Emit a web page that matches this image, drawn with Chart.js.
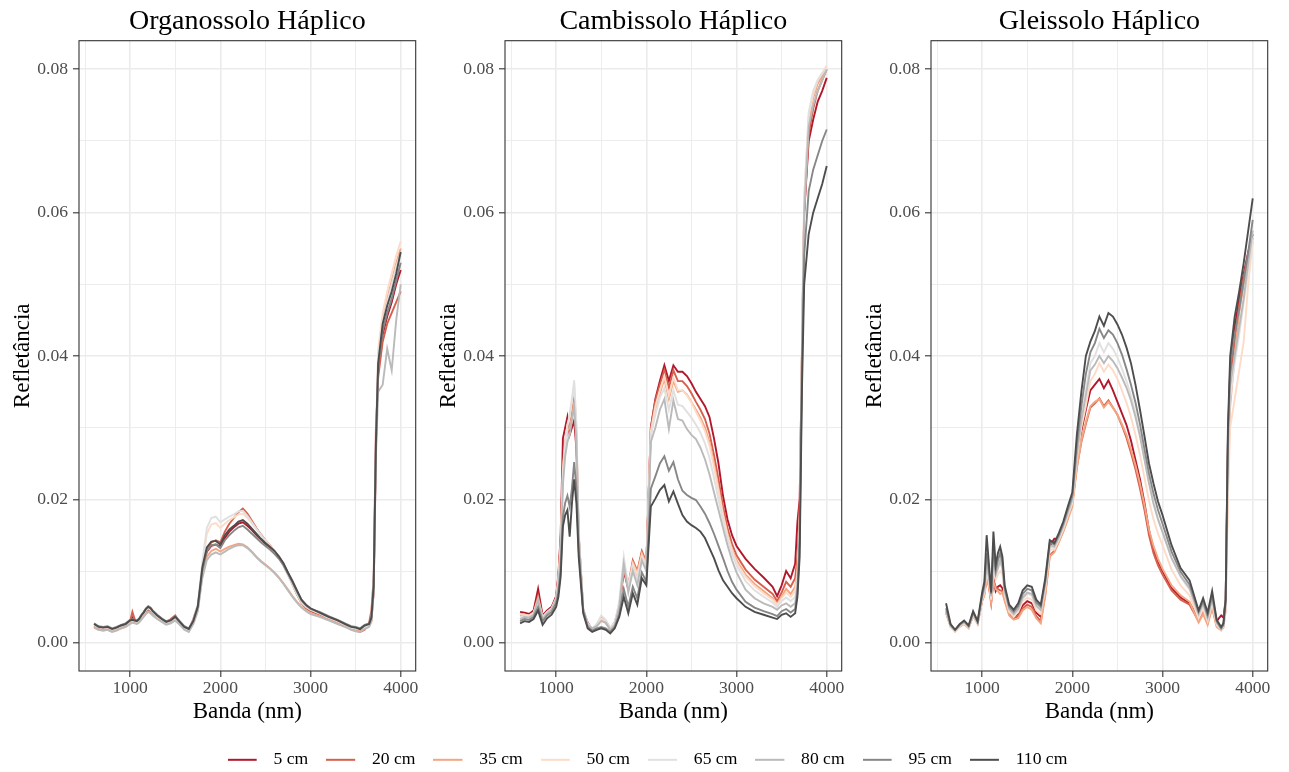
<!DOCTYPE html>
<html><head><meta charset="utf-8">
<script src="https://cdn.jsdelivr.net/npm/chart.js@4.4.1/dist/chart.umd.min.js"></script>
<style>
html,body{margin:0;padding:0;background:#fff;}
#wrap{position:relative;width:1289px;height:772px;overflow:hidden;background:#fff;}
canvas{position:absolute;}
</style></head><body>
<div id="wrap">
<canvas id="p0" width="426" height="735" style="left:0px;top:0px"></canvas>
<canvas id="p1" width="426" height="735" style="left:426px;top:0px"></canvas>
<canvas id="p2" width="426" height="735" style="left:852px;top:0px"></canvas>
<canvas id="lg" width="1289" height="39" style="left:3px;top:733px"></canvas>
</div>
<script>
// ---------- DATA ----------
const wavelengths = [600,650,700,750,800,850,900,950,1000,
  1025,1050,1075,1100,1125,1150,1175,1200,1225,1250,
  1300,1350,1400,1450,1500,1550,1600,1650,1700,1750,1800,1850,1900,1950,2000,2050,2100,2150,2200,2250,
  2300,2350,2400,2450,2500,2550,2600,2650,2700,2750,2800,2850,2900,2950,3000,
  3100,3200,3300,3400,3450,3500,3550,3600,3650,3675,3700,3725,3750,3800,3850,3900,3950,4000];

const depthLabels = ['5 cm','20 cm','35 cm','50 cm','65 cm','80 cm','95 cm','110 cm'];
const panelTitles = ['Organossolo Háplico','Cambissolo Háplico','Gleissolo Háplico'];
const xTickValues = [500,1000,1500,2000,2500,3000,3500,4000];
const xTickLabeled = [1000,2000,3000,4000];
const yTickValues = [0,0.01,0.02,0.03,0.04,0.05,0.06,0.07,0.08];
const yTickLabeled = [0,0.02,0.04,0.06,0.08];

// Organossolo Háplico
const org5 = [0.0023,0.0020,0.0019,0.0020,0.0017,0.0019,0.0022,0.0024,0.0029,
  0.0035,0.0030,0.0029,0.0031,0.0036,0.0040,0.0044,0.0047,0.0045,0.0042,
  0.0036,0.0031,0.0027,0.0030,0.0035,0.0028,0.0021,0.0018,0.0029,0.0048,
  0.0098,0.0127,0.0135,0.0137,0.0134,0.0146,0.0155,0.0161,0.0166,0.0168,0.0163,0.0157,0.0150,0.0144,0.0138,0.0133,0.0127,0.0120,0.0110,0.0097,0.0083,0.0069,0.0057,0.0050,0.0045,
  0.0040,0.0034,0.0029,0.0023,0.0020,0.0018,0.0017,0.0020,0.0024,0.0032,0.0070,0.0270,0.0380,0.0430,0.0455,0.0475,0.0500,0.0520];
const org20 = [0.0022,0.0019,0.0018,0.0019,0.0016,0.0018,0.0021,0.0024,0.0030,
  0.0043,0.0033,0.0029,0.0030,0.0035,0.0039,0.0043,0.0046,0.0044,0.0041,
  0.0035,0.0031,0.0027,0.0033,0.0038,0.0028,0.0020,0.0017,0.0033,0.0052,
  0.0102,0.0130,0.0140,0.0143,0.0140,0.0155,0.0166,0.0174,0.0182,0.0187,0.0180,0.0170,0.0160,0.0151,0.0143,0.0136,0.0128,0.0119,0.0108,0.0095,0.0081,0.0067,0.0055,0.0048,0.0044,
  0.0039,0.0033,0.0028,0.0022,0.0019,0.0017,0.0015,0.0018,0.0028,0.0045,0.0090,0.0300,0.0370,0.0420,0.0445,0.0460,0.0475,0.0490];
const org35 = [0.0021,0.0018,0.0017,0.0018,0.0016,0.0018,0.0020,0.0022,0.0027,
  0.0029,0.0028,0.0027,0.0029,0.0033,0.0037,0.0041,0.0043,0.0042,0.0039,
  0.0034,0.0030,0.0026,0.0028,0.0032,0.0026,0.0019,0.0017,0.0027,0.0045,
  0.0095,0.0120,0.0128,0.0131,0.0127,0.0131,0.0134,0.0136,0.0138,0.0137,0.0133,0.0127,0.0120,0.0114,0.0109,0.0104,0.0098,0.0091,0.0083,0.0074,0.0065,0.0057,0.0050,0.0045,0.0041,
  0.0037,0.0032,0.0027,0.0022,0.0019,0.0018,0.0017,0.0020,0.0023,0.0030,0.0075,0.0270,0.0400,0.0450,0.0480,0.0505,0.0530,0.0550];
const org50 = [0.0024,0.0021,0.0020,0.0021,0.0018,0.0020,0.0023,0.0025,0.0030,
  0.0031,0.0030,0.0029,0.0032,0.0037,0.0041,0.0045,0.0048,0.0046,0.0043,
  0.0037,0.0032,0.0028,0.0030,0.0034,0.0028,0.0021,0.0018,0.0030,0.0052,
  0.0108,0.0152,0.0165,0.0167,0.0160,0.0166,0.0171,0.0175,0.0179,0.0180,0.0174,0.0166,0.0158,0.0150,0.0143,0.0136,0.0128,0.0119,0.0108,0.0095,0.0082,0.0069,0.0057,0.0050,0.0046,
  0.0041,0.0035,0.0030,0.0024,0.0021,0.0020,0.0019,0.0022,0.0025,0.0033,0.0080,0.0280,0.0410,0.0460,0.0490,0.0515,0.0540,0.0560];
const org65 = [0.0025,0.0022,0.0021,0.0022,0.0019,0.0021,0.0023,0.0025,0.0030,
  0.0031,0.0030,0.0029,0.0032,0.0037,0.0041,0.0046,0.0049,0.0047,0.0043,
  0.0037,0.0032,0.0028,0.0030,0.0034,0.0028,0.0021,0.0018,0.0031,0.0054,
  0.0112,0.0160,0.0174,0.0176,0.0168,0.0172,0.0176,0.0179,0.0183,0.0184,0.0177,0.0168,0.0159,0.0150,0.0142,0.0135,0.0127,0.0118,0.0107,0.0094,0.0081,0.0068,0.0056,0.0050,0.0046,
  0.0041,0.0035,0.0030,0.0024,0.0021,0.0020,0.0019,0.0022,0.0025,0.0034,0.0085,0.0290,0.0400,0.0445,0.0475,0.0500,0.0525,0.0545];
const org80 = [0.0022,0.0018,0.0017,0.0018,0.0015,0.0017,0.0020,0.0022,0.0026,
  0.0028,0.0027,0.0026,0.0028,0.0032,0.0036,0.0040,0.0043,0.0041,0.0038,
  0.0033,0.0029,0.0025,0.0027,0.0031,0.0025,0.0018,0.0015,0.0026,0.0044,
  0.0090,0.0115,0.0123,0.0126,0.0123,0.0127,0.0131,0.0134,0.0136,0.0136,0.0132,0.0126,0.0119,0.0113,0.0108,0.0103,0.0097,0.0090,0.0082,0.0073,0.0064,0.0056,0.0049,0.0044,0.0040,
  0.0036,0.0031,0.0026,0.0021,0.0018,0.0016,0.0015,0.0019,0.0022,0.0030,0.0070,0.0260,0.0350,0.0360,0.0410,0.0380,0.0450,0.0500];
const org95 = [0.0027,0.0023,0.0022,0.0023,0.0020,0.0022,0.0025,0.0027,0.0032,
  0.0033,0.0032,0.0031,0.0034,0.0039,0.0043,0.0048,0.0051,0.0049,0.0045,
  0.0039,0.0034,0.0030,0.0032,0.0037,0.0030,0.0023,0.0020,0.0031,0.0051,
  0.0100,0.0128,0.0136,0.0137,0.0132,0.0143,0.0150,0.0156,0.0161,0.0163,0.0158,0.0152,0.0146,0.0140,0.0135,0.0130,0.0124,0.0117,0.0108,0.0096,0.0084,0.0071,0.0059,0.0052,0.0047,
  0.0043,0.0037,0.0032,0.0026,0.0023,0.0022,0.0020,0.0025,0.0027,0.0036,0.0080,0.0280,0.0385,0.0435,0.0460,0.0480,0.0505,0.0530];
const org110 = [0.0026,0.0022,0.0021,0.0022,0.0019,0.0021,0.0024,0.0026,0.0031,
  0.0032,0.0031,0.0030,0.0033,0.0038,0.0042,0.0047,0.0050,0.0048,0.0044,
  0.0038,0.0033,0.0029,0.0031,0.0036,0.0029,0.0022,0.0019,0.0030,0.0050,
  0.0105,0.0133,0.0141,0.0142,0.0137,0.0150,0.0158,0.0163,0.0169,0.0171,0.0166,0.0159,0.0152,0.0145,0.0139,0.0134,0.0128,0.0120,0.0111,0.0098,0.0086,0.0073,0.0060,0.0053,0.0048,
  0.0042,0.0036,0.0031,0.0025,0.0022,0.0021,0.0019,0.0024,0.0026,0.0035,0.0080,0.0280,0.0390,0.0445,0.0470,0.0490,0.0515,0.0545];

// Cambissolo Háplico
const cam5 = [0.0043,0.0042,0.0040,0.0045,0.0075,0.0038,0.0045,0.0050,0.0065,
  0.0095,0.0150,0.0285,0.0300,0.0315,0.0290,0.0300,0.0310,0.0270,0.0150,
  0.0045,0.0028,0.0018,0.0025,0.0035,0.0030,0.0020,0.0028,0.0050,0.0100,0.0075,0.0110,0.0095,0.0125,0.0110,0.0300,0.0340,0.0365,0.0387,0.0365,
  0.0387,0.0378,0.0378,0.0372,0.0362,0.0350,0.0340,0.0330,0.0315,0.0285,0.0250,0.0205,0.0172,0.0150,0.0135,
  0.0117,0.0103,0.0091,0.0078,0.0065,0.0080,0.0100,0.0090,0.0110,0.0168,0.0200,0.0400,0.0600,0.0700,0.0730,0.0755,0.0770,0.0788];
const cam20 = [0.0040,0.0039,0.0038,0.0042,0.0065,0.0036,0.0043,0.0048,0.0062,
  0.0090,0.0140,0.0250,0.0280,0.0300,0.0300,0.0320,0.0345,0.0290,0.0150,
  0.0045,0.0026,0.0017,0.0024,0.0032,0.0028,0.0019,0.0027,0.0052,0.0105,0.0080,0.0115,0.0100,0.0128,0.0112,0.0300,0.0338,0.0360,0.0380,0.0355,
  0.0380,0.0365,0.0365,0.0358,0.0348,0.0336,0.0325,0.0312,0.0292,0.0262,0.0228,0.0190,0.0160,0.0138,0.0122,
  0.0102,0.0088,0.0078,0.0068,0.0058,0.0070,0.0085,0.0078,0.0090,0.0120,0.0180,0.0400,0.0600,0.0710,0.0745,0.0770,0.0785,0.0800];
const cam35 = [0.0038,0.0038,0.0037,0.0041,0.0062,0.0035,0.0042,0.0047,0.0061,
  0.0088,0.0135,0.0240,0.0275,0.0295,0.0300,0.0315,0.0335,0.0285,0.0150,
  0.0045,0.0025,0.0018,0.0024,0.0032,0.0028,0.0019,0.0027,0.0052,0.0105,0.0078,0.0112,0.0098,0.0125,0.0110,0.0290,0.0325,0.0348,0.0368,0.0340,
  0.0365,0.0350,0.0352,0.0346,0.0336,0.0325,0.0314,0.0300,0.0280,0.0250,0.0216,0.0180,0.0152,0.0130,0.0115,
  0.0095,0.0082,0.0072,0.0062,0.0054,0.0064,0.0075,0.0068,0.0078,0.0100,0.0170,0.0400,0.0610,0.0730,0.0760,0.0780,0.0790,0.0800];
const cam50 = [0.0040,0.0039,0.0038,0.0042,0.0060,0.0036,0.0043,0.0048,0.0062,
  0.0088,0.0135,0.0240,0.0280,0.0305,0.0315,0.0335,0.0360,0.0300,0.0155,
  0.0046,0.0026,0.0019,0.0025,0.0034,0.0030,0.0020,0.0028,0.0055,0.0110,0.0080,0.0110,0.0095,0.0122,0.0108,0.0295,0.0330,0.0352,0.0372,0.0345,
  0.0370,0.0352,0.0352,0.0345,0.0335,0.0322,0.0310,0.0295,0.0275,0.0245,0.0212,0.0178,0.0150,0.0128,0.0112,
  0.0092,0.0079,0.0069,0.0060,0.0053,0.0062,0.0070,0.0064,0.0072,0.0095,0.0160,0.0420,0.0620,0.0735,0.0765,0.0785,0.0795,0.0805];
const cam65 = [0.0036,0.0037,0.0036,0.0040,0.0058,0.0035,0.0042,0.0047,0.0061,
  0.0085,0.0130,0.0230,0.0275,0.0300,0.0320,0.0340,0.0366,0.0305,0.0155,
  0.0047,0.0027,0.0020,0.0026,0.0038,0.0032,0.0020,0.0028,0.0058,0.0120,0.0078,0.0105,0.0088,0.0118,0.0105,0.0290,0.0318,0.0342,0.0355,0.0325,
  0.0352,0.0332,0.0330,0.0322,0.0314,0.0304,0.0293,0.0278,0.0258,0.0230,0.0200,0.0170,0.0145,0.0124,0.0108,
  0.0086,0.0073,0.0064,0.0056,0.0050,0.0058,0.0063,0.0058,0.0064,0.0088,0.0150,0.0410,0.0620,0.0740,0.0770,0.0785,0.0795,0.0800];
const cam80 = [0.0033,0.0036,0.0035,0.0039,0.0060,0.0033,0.0041,0.0046,0.0060,
  0.0080,0.0120,0.0220,0.0260,0.0280,0.0290,0.0310,0.0330,0.0280,0.0150,
  0.0048,0.0025,0.0020,0.0023,0.0030,0.0028,0.0018,0.0025,0.0050,0.0110,0.0070,0.0100,0.0080,0.0115,0.0100,0.0280,0.0300,0.0325,0.0340,0.0298,
  0.0338,0.0312,0.0310,0.0298,0.0290,0.0284,0.0272,0.0256,0.0235,0.0210,0.0185,0.0160,0.0136,0.0115,0.0098,
  0.0074,0.0062,0.0055,0.0050,0.0046,0.0052,0.0055,0.0050,0.0055,0.0080,0.0150,0.0400,0.0600,0.0720,0.0750,0.0770,0.0785,0.0800];
const cam95 = [0.0030,0.0033,0.0032,0.0036,0.0050,0.0030,0.0038,0.0043,0.0055,
  0.0070,0.0100,0.0175,0.0195,0.0205,0.0190,0.0215,0.0252,0.0215,0.0130,
  0.0045,0.0022,0.0017,0.0020,0.0022,0.0020,0.0015,0.0022,0.0040,0.0075,0.0050,0.0078,0.0062,0.0098,0.0085,0.0215,0.0232,0.0250,0.0260,0.0240,
  0.0252,0.0228,0.0212,0.0206,0.0202,0.0199,0.0190,0.0180,0.0167,0.0152,0.0135,0.0118,0.0100,0.0085,0.0074,
  0.0057,0.0049,0.0044,0.0040,0.0037,0.0044,0.0047,0.0042,0.0047,0.0070,0.0140,0.0380,0.0540,0.0630,0.0660,0.0680,0.0700,0.0716];
const cam110 = [0.0027,0.0030,0.0029,0.0033,0.0045,0.0025,0.0034,0.0039,0.0050,
  0.0064,0.0092,0.0162,0.0178,0.0185,0.0148,0.0194,0.0228,0.0194,0.0120,
  0.0041,0.0020,0.0015,0.0018,0.0020,0.0018,0.0013,0.0020,0.0036,0.0064,0.0041,0.0069,0.0053,0.0090,0.0080,0.0190,0.0201,0.0213,0.0220,0.0197,
  0.0211,0.0194,0.0178,0.0169,0.0164,0.0160,0.0155,0.0146,0.0132,0.0118,0.0101,0.0087,0.0078,0.0069,0.0062,
  0.0050,0.0043,0.0039,0.0035,0.0033,0.0039,0.0041,0.0036,0.0041,0.0064,0.0120,0.0350,0.0500,0.0570,0.0600,0.0620,0.0640,0.0665];

// Gleissolo Háplico
const gle5 = [0.0043,0.0024,0.0017,0.0024,0.0028,0.0022,0.0039,0.0028,0.0060,
  0.0070,0.0095,0.0082,0.0058,0.0090,0.0072,0.0078,0.0080,0.0076,0.0062,
  0.0042,0.0036,0.0040,0.0052,0.0058,0.0055,0.0042,0.0036,0.0075,0.0135,0.0145,0.0145,0.0158,0.0178,0.0200,0.0255,0.0295,0.0325,0.0352,0.0360,
  0.0368,0.0355,0.0366,0.0352,0.0336,0.0320,0.0304,0.0282,0.0255,0.0228,0.0195,0.0157,0.0130,0.0113,0.0100,
  0.0076,0.0063,0.0055,0.0035,0.0045,0.0032,0.0052,0.0030,0.0038,0.0035,0.0060,0.0280,0.0380,0.0440,0.0480,0.0515,0.0545,0.0570];
const gle20 = [0.0042,0.0023,0.0016,0.0023,0.0027,0.0021,0.0038,0.0027,0.0059,
  0.0068,0.0090,0.0080,0.0056,0.0088,0.0078,0.0075,0.0073,0.0072,0.0060,
  0.0040,0.0034,0.0037,0.0048,0.0053,0.0050,0.0037,0.0030,0.0068,0.0122,0.0128,0.0141,0.0156,0.0174,0.0195,0.0245,0.0280,0.0305,0.0328,0.0334,
  0.0341,0.0330,0.0338,0.0328,0.0318,0.0303,0.0286,0.0265,0.0242,0.0215,0.0185,0.0150,0.0125,0.0108,0.0095,
  0.0073,0.0060,0.0053,0.0030,0.0042,0.0027,0.0050,0.0024,0.0018,0.0022,0.0050,0.0260,0.0360,0.0420,0.0470,0.0510,0.0540,0.0565];
const gle35 = [0.0042,0.0022,0.0016,0.0022,0.0026,0.0020,0.0038,0.0026,0.0058,
  0.0066,0.0088,0.0078,0.0055,0.0085,0.0075,0.0072,0.0068,0.0070,0.0058,
  0.0038,0.0032,0.0034,0.0045,0.0050,0.0046,0.0034,0.0027,0.0065,0.0120,0.0126,0.0140,0.0155,0.0172,0.0190,0.0243,0.0282,0.0308,0.0330,0.0336,
  0.0340,0.0328,0.0336,0.0328,0.0318,0.0305,0.0290,0.0270,0.0248,0.0222,0.0192,0.0158,0.0135,0.0117,0.0103,
  0.0080,0.0066,0.0057,0.0028,0.0040,0.0025,0.0048,0.0022,0.0017,0.0021,0.0045,0.0220,0.0330,0.0400,0.0460,0.0500,0.0530,0.0560];
const gle50 = [0.0043,0.0023,0.0016,0.0023,0.0027,0.0021,0.0039,0.0027,0.0060,
  0.0070,0.0098,0.0085,0.0060,0.0105,0.0088,0.0095,0.0100,0.0095,0.0066,
  0.0043,0.0036,0.0043,0.0058,0.0063,0.0060,0.0045,0.0040,0.0076,0.0130,0.0130,0.0143,0.0158,0.0177,0.0195,0.0255,0.0300,0.0330,0.0365,0.0375,
  0.0390,0.0378,0.0388,0.0380,0.0368,0.0352,0.0335,0.0315,0.0290,0.0262,0.0230,0.0198,0.0172,0.0152,0.0136,
  0.0102,0.0080,0.0066,0.0034,0.0047,0.0030,0.0055,0.0025,0.0018,0.0022,0.0045,0.0200,0.0300,0.0340,0.0380,0.0420,0.0500,0.0560];
const gle65 = [0.0044,0.0024,0.0017,0.0024,0.0028,0.0022,0.0040,0.0028,0.0062,
  0.0073,0.0105,0.0090,0.0064,0.0115,0.0092,0.0102,0.0112,0.0102,0.0070,
  0.0046,0.0039,0.0046,0.0062,0.0068,0.0066,0.0050,0.0044,0.0080,0.0134,0.0132,0.0145,0.0161,0.0180,0.0198,0.0265,0.0315,0.0352,0.0390,0.0400,
  0.0418,0.0405,0.0418,0.0410,0.0398,0.0382,0.0365,0.0345,0.0320,0.0292,0.0258,0.0225,0.0196,0.0173,0.0155,
  0.0118,0.0092,0.0074,0.0038,0.0052,0.0033,0.0060,0.0027,0.0018,0.0023,0.0050,0.0250,0.0340,0.0390,0.0430,0.0475,0.0520,0.0565];
const gle80 = [0.0045,0.0024,0.0017,0.0024,0.0029,0.0022,0.0041,0.0028,0.0063,
  0.0075,0.0110,0.0092,0.0065,0.0120,0.0095,0.0105,0.0115,0.0105,0.0072,
  0.0047,0.0040,0.0047,0.0063,0.0070,0.0068,0.0052,0.0046,0.0082,0.0136,0.0134,0.0147,0.0163,0.0182,0.0200,0.0262,0.0310,0.0345,0.0380,0.0388,
  0.0400,0.0390,0.0400,0.0393,0.0383,0.0370,0.0356,0.0338,0.0315,0.0288,0.0255,0.0222,0.0194,0.0172,0.0154,
  0.0118,0.0093,0.0076,0.0040,0.0055,0.0035,0.0062,0.0028,0.0019,0.0024,0.0055,0.0270,0.0360,0.0400,0.0440,0.0480,0.0530,0.0575];
const gle95 = [0.0048,0.0025,0.0018,0.0025,0.0030,0.0023,0.0042,0.0029,0.0066,
  0.0080,0.0125,0.0100,0.0068,0.0135,0.0100,0.0115,0.0125,0.0112,0.0076,
  0.0050,0.0043,0.0051,0.0068,0.0075,0.0073,0.0056,0.0050,0.0086,0.0140,0.0137,0.0150,0.0166,0.0186,0.0205,0.0275,0.0330,0.0375,0.0405,0.0418,
  0.0438,0.0425,0.0436,0.0430,0.0418,0.0402,0.0382,0.0360,0.0335,0.0305,0.0270,0.0236,0.0208,0.0185,0.0166,
  0.0127,0.0099,0.0081,0.0043,0.0058,0.0038,0.0066,0.0030,0.0020,0.0025,0.0060,0.0290,0.0385,0.0430,0.0465,0.0505,0.0545,0.0590];
const gle110 = [0.0055,0.0026,0.0018,0.0026,0.0031,0.0024,0.0044,0.0030,0.0070,
  0.0085,0.0150,0.0110,0.0070,0.0155,0.0108,0.0125,0.0134,0.0120,0.0080,
  0.0053,0.0046,0.0055,0.0073,0.0080,0.0078,0.0060,0.0053,0.0090,0.0143,0.0139,0.0153,0.0169,0.0190,0.0210,0.0290,0.0350,0.0400,0.0420,0.0435,
  0.0455,0.0442,0.0460,0.0455,0.0444,0.0430,0.0412,0.0390,0.0360,0.0325,0.0288,0.0250,0.0222,0.0197,0.0178,
  0.0136,0.0104,0.0087,0.0045,0.0062,0.0042,0.0072,0.0032,0.0022,0.0027,0.0060,0.0300,0.0400,0.0455,0.0490,0.0530,0.0575,0.0620];

const panelSeries = [
  [org5, org20, org35, org50, org65, org80, org95, org110],
  [cam5, cam20, cam35, cam50, cam65, cam80, cam95, cam110],
  [gle5, gle20, gle35, gle50, gle65, gle80, gle95, gle110]
];

// ---------- STYLE ----------
const depthColors = ['#b2182b','#d6604d','#f4a582','#fddbc7','#e0e0e0','#bababa','#878787','#4d4d4d'];
const FONT = '"Liberation Serif", "Times New Roman", serif';
const GRID = '#ebebeb';

panelSeries.forEach((p, pi) => p.forEach((s, si) => {
  if (s.length !== wavelengths.length) console.error('length mismatch panel', pi, 'series', si, s.length);
}));

const panelDeco = {
  id: 'panelDeco',
  afterDatasetsDraw(chart) {
    const {ctx, chartArea: a} = chart;
    ctx.save();
    ctx.strokeStyle = '#333333';
    ctx.lineWidth = 1.1;
    ctx.strokeRect(a.left, a.top, a.right - a.left, a.bottom - a.top);
    ctx.restore();
  },
  afterDraw(chart, args, opts) {
    const {ctx, chartArea: a} = chart;
    ctx.save();
    ctx.font = '28px ' + FONT;
    ctx.fillStyle = '#000000';
    ctx.textAlign = 'center';
    ctx.textBaseline = 'alphabetic';
    ctx.fillText(opts.title, (a.left + a.right) / 2, 28.5);
    ctx.restore();
  }
};

function gridOpts(labeled) {
  return {
    color: GRID,
    lineWidth: c => (c.tick && labeled.includes(c.tick.value)) ? 1.6 : 0.9,
    tickLength: 6,
    tickWidth: 1.1,
    tickColor: c => (c.tick && labeled.includes(c.tick.value)) ? '#333333' : 'rgba(0,0,0,0)'
  };
}

function makePanel(id, title, seriesList) {
  const datasets = seriesList.map((vals, i) => ({
    label: depthLabels[i],
    data: wavelengths.map((w, k) => ({x: w, y: vals[k]})),
    borderColor: depthColors[i],
    backgroundColor: depthColors[i],
    borderWidth: 1.9,
    pointRadius: 0,
    tension: 0,
    order: depthLabels.length - i
  }));
  return new Chart(document.getElementById(id), {
    type: 'line',
    data: {datasets},
    options: {
      responsive: false, animation: false, devicePixelRatio: 1, events: [],
      layout: {padding: {left: 0, right: 10.3, top: 40.7, bottom: 0}},
      plugins: {legend: {display: false}, tooltip: {enabled: false}, title: {display: false}, panelDeco: {title}},
      scales: {
        x: {
          type: 'linear', min: 433, max: 4166,
          afterBuildTicks: s => { s.ticks = xTickValues.map(v => ({value: v})); },
          afterFit: s => { s.height = 64; },
          ticks: {autoSkip: false, maxRotation: 0, minRotation: 0, padding: 1, color: '#4d4d4d',
                  font: {family: FONT, size: 17.6}, callback: v => xTickLabeled.includes(v) ? String(v) : ''},
          grid: gridOpts(xTickLabeled),
          border: {display: false},
          title: {display: true, text: 'Banda (nm)', color: '#000000', font: {family: FONT, size: 23}, padding: {top: 0, bottom: 9.5}}
        },
        y: {
          type: 'linear', min: -0.00395, max: 0.08399,
          afterBuildTicks: s => { s.ticks = yTickValues.map(v => ({value: v})); },
          afterFit: s => { s.width = 79; },
          ticks: {autoSkip: false, padding: 5, color: '#4d4d4d',
                  font: {family: FONT, size: 17.6}, callback: v => yTickLabeled.includes(v) ? v.toFixed(2) : ''},
          grid: gridOpts(yTickLabeled),
          border: {display: false},
          title: {display: true, text: 'Refletância', color: '#000000', font: {family: FONT, size: 23}, padding: {top: 9.4, bottom: 0}}
        }
      }
    },
    plugins: [panelDeco]
  });
}

makePanel('p0', panelTitles[0], panelSeries[0]);
makePanel('p1', panelTitles[1], panelSeries[1]);
makePanel('p2', panelTitles[2], panelSeries[2]);

// legend swatches (short line on the left of a wider transparent box)
const swatches = depthColors.map(c => {
  const cv = document.createElement('canvas');
  cv.width = 37; cv.height = 4;
  const g = cv.getContext('2d');
  g.fillStyle = c;
  g.fillRect(0, 1, 29, 2);
  return cv;
});

new Chart(document.getElementById('lg'), {
  type: 'line',
  data: {datasets: depthLabels.map((l, i) => ({label: l, data: [], borderColor: depthColors[i], backgroundColor: depthColors[i]}))},
  options: {
    responsive: false, animation: false, devicePixelRatio: 1, events: [],
    layout: {padding: 0},
    scales: {x: {display: false}, y: {display: false}},
    plugins: {
      tooltip: {enabled: false},
      legend: {
        display: true, position: 'top', align: 'center', maxHeight: 39,
        labels: {
          usePointStyle: true, pointStyleWidth: 37, boxHeight: 17.6, padding: 18,
          color: '#000000', font: {family: FONT, size: 17.6},
          generateLabels: chart => chart.data.datasets.map((ds, i) => ({
            text: ds.label, pointStyle: swatches[i], fillStyle: ds.borderColor, strokeStyle: ds.borderColor,
            lineWidth: 0, hidden: false, datasetIndex: i, fontColor: '#000000'
          }))
        }
      }
    }
  }
});
</script>
</body></html>
